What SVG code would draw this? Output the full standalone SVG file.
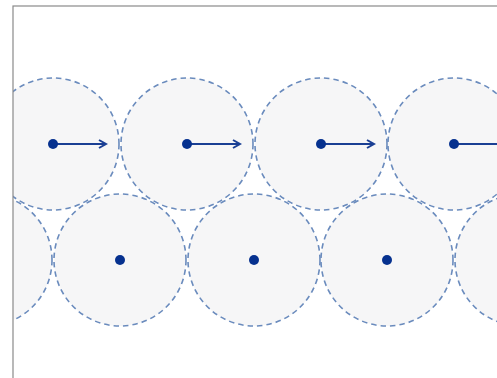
<svg xmlns="http://www.w3.org/2000/svg" width="497" height="378" viewBox="0 0 497 378">
<style>
.c{fill:#f5f5f6;fill-opacity:0.9;stroke:#6a8bbd;stroke-width:1.6;stroke-dasharray:5.5 4}
.d{fill:#06318f}
.a{stroke:#1a3f94;stroke-width:2;fill:none;marker-end:url(#ah)}
</style>
<defs>
<marker id="ah" markerWidth="10" markerHeight="10" refX="8" refY="5" orient="auto" markerUnits="userSpaceOnUse">
<path d="M1,1 L8,5 L1,9" fill="none" stroke="#1a3f94" stroke-width="2"/>
</marker>
<clipPath id="frame"><rect x="13" y="6" width="500" height="390"/></clipPath>
</defs>
<rect x="0" y="0" width="497" height="378" fill="#fff"/>
<g clip-path="url(#frame)">
<g id="row-top">
<g id="t1"><circle class="c" cx="53" cy="144" r="66"/></g>
<g id="t2"><circle class="c" cx="187" cy="144" r="66"/></g>
<g id="t3"><circle class="c" cx="321" cy="144" r="66"/></g>
<g id="t4"><circle class="c" cx="454" cy="144" r="66"/></g>
</g>
<g id="row-bottom">
<g id="b0"><circle class="c" cx="-14" cy="260" r="66"/></g>
<g id="b1"><circle class="c" cx="120" cy="260" r="66"/></g>
<g id="b2"><circle class="c" cx="254" cy="260" r="66"/></g>
<g id="b3"><circle class="c" cx="387" cy="260" r="66"/></g>
<g id="b4"><circle class="c" cx="521" cy="260" r="66"/></g>
</g>
<g id="connectors">
<line class="a" x1="53" y1="144" x2="106" y2="144"/>
<line class="a" x1="187" y1="144" x2="240" y2="144"/>
<line class="a" x1="321" y1="144" x2="374" y2="144"/>
<line class="a" x1="454" y1="144" x2="507" y2="144"/>
</g>
<g id="dots">
<circle class="d" cx="53" cy="144" r="5"/>
<circle class="d" cx="187" cy="144" r="5"/>
<circle class="d" cx="321" cy="144" r="5"/>
<circle class="d" cx="454" cy="144" r="5"/>
<circle class="d" cx="120" cy="260" r="5"/>
<circle class="d" cx="254" cy="260" r="5"/>
<circle class="d" cx="387" cy="260" r="5"/>
</g>
</g>
<rect x="13" y="6" width="500" height="390" fill="none" stroke="#8a8a8a" stroke-width="1.2"/>
</svg>
